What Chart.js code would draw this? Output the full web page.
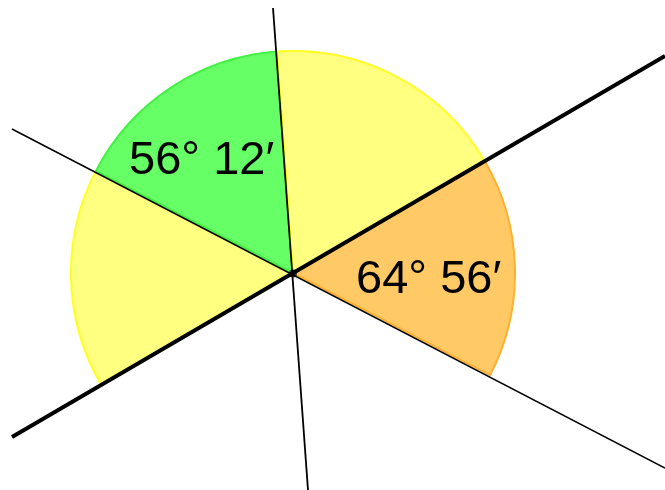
<!DOCTYPE html>
<html>
<head>
<meta charset="utf-8">
<script src="https://cdn.jsdelivr.net/npm/chart.js@4/dist/chart.umd.min.js"></script>
<style>
  body { margin: 0; background: #fff; }
  #wrap { position: relative; width: 665px; height: 490px; overflow: hidden; }
  #sectors { position: absolute; left: 70px; top: 50px; }
  #lines { position: absolute; left: 0; top: 0; }
  .angle {
    position: absolute;
    font-family: "Liberation Sans", Arial, sans-serif;
    font-size: 47px;
    line-height: 1;
    color: #000;
    white-space: nowrap;
  }
</style>
</head>
<body>
<div id="wrap">
  <canvas id="sectors" width="446" height="446"></canvas>
  <canvas id="lines" width="665" height="490"></canvas>
  <div class="angle" id="label1" style="left:129px; top:134px;"></div>
  <div class="angle" id="label2" style="left:356px; top:253px;"></div>
</div>

<script>
// sectors, going clockwise from the lower-left half of the thick line (degrees as drawn)
let sectorNames = ['yellow left', 'green', 'yellow top', 'orange', 'empty'];
let sectorAngles = [57.7, 58.5, 63.8, 57.7, 122.3];
let sectorFill = ['#ffff80', '#66ff66', '#ffff80', '#ffc966', 'rgba(0,0,0,0)'];
let sectorEdge = ['#ffff22', '#44f044', '#ffff22', '#ffb030', 'rgba(0,0,0,0)'];
let startAngle = -120.3; // chart.js: 0 = 12 o'clock, clockwise

// the angle texts
let angleTexts = ['56° 12′', '64° 56′'];

// the three lines, in picture units (y down)
let vertex = [293, 273.5];
let lineFrom = [[12, 437], [12, 129], [273, 8]];
let lineTo = [[665, 56], [665, 468], [308, 490]];
let lineWidths = [4, 1.5, 1.8];

document.getElementById('label1').textContent = angleTexts[0];
document.getElementById('label2').textContent = angleTexts[1];

new Chart('sectors', {
  type: 'pie',
  data: {
    labels: sectorNames,
    datasets: [{
      data: sectorAngles,
      backgroundColor: sectorFill,
      borderColor: sectorEdge,
      borderWidth: [2, 2, 2, 2, 0],
      hoverOffset: 0
    }]
  },
  options: {
    responsive: false,
    devicePixelRatio: 1,
    animation: false,
    rotation: startAngle,
    circumference: 360,
    layout: { padding: 0 },
    plugins: { legend: { display: false }, tooltip: { enabled: false } },
    events: []
  }
});

let lineSets = [];
for (let i = 0; i < lineFrom.length; i++) {
  lineSets.push({
    data: [{ x: lineFrom[i][0], y: lineFrom[i][1] }, { x: lineTo[i][0], y: lineTo[i][1] }],
    showLine: true,
    borderColor: '#000',
    borderWidth: lineWidths[i],
    pointRadius: 0,
    clip: 0
  });
}
lineSets.push({
  data: [{ x: vertex[0], y: vertex[1] }],
  pointRadius: 4,
  pointBackgroundColor: '#3a3a3a',
  pointBorderColor: '#3a3a3a',
  pointBorderWidth: 0
});

new Chart('lines', {
  type: 'scatter',
  data: { datasets: lineSets },
  options: {
    responsive: false,
    devicePixelRatio: 1,
    animation: false,
    layout: { padding: 0, autoPadding: false },
    scales: {
      x: { display: false, min: 0, max: 665 },
      y: { display: false, min: 0, max: 490, reverse: true }
    },
    plugins: { legend: { display: false }, tooltip: { enabled: false } },
    events: []
  }
});
</script>
</body>
</html>
